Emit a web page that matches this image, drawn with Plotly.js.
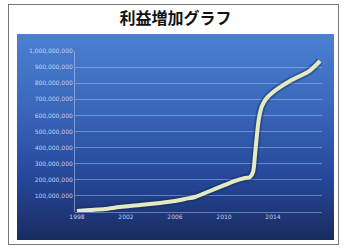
<!DOCTYPE html>
<html><head><meta charset="utf-8">
<script src="https://cdn.plot.ly/plotly-3.0.1.min.js"></script>
<style>
html,body{margin:0;padding:0;background:#fff;width:351px;height:248px;overflow:hidden;}
#frame{position:absolute;left:8px;top:4px;width:331px;height:241px;border:1px solid #777;box-sizing:border-box;}
#panel{position:absolute;left:17px;top:34px;width:317px;height:206px;background:linear-gradient(to bottom,#4c80d2 0%,#3a68bb 35%,#25479a 70%,#1a2b60 100%);}
#chart{position:absolute;left:0;top:0;width:351px;height:248px;}
</style></head>
<body>
<div id="frame"></div>
<div id="panel"></div>
<div id="chart"></div>
<script>
const years = [1998.0,1999.06,2000.29,2001.51,2003.14,2004.78,2006.0,2006.82,2007.63,2008.45,2009.27,2010.08,2010.9,2011.71,2012.12,2012.37,2012.53,2012.69,2012.86,2013.1,2013.43,2013.92,2014.57,2015.39,2016.2,2016.86,2017.35,2017.84];
const profit = [6,12,19,31,43,56,68,81,93,118,143,168,193,211,217,248,354,478,584,658,702,739,776,814,845,870,901,938].map(v=>v*1e6);
const xTickVals = [1998,2002,2006,2010,2014];
const xTickText = ['1998','2002','2006','2010','2014'];
const yTickVals = [100e6,200e6,300e6,400e6,500e6,600e6,700e6,800e6,900e6,1000e6];
const titleText = '利益増加グラフ';

const glow = {x:years,y:profit,type:'scatter',mode:'lines',line:{color:'rgba(20,40,90,0.35)',width:8,shape:'spline',smoothing:0.8},hoverinfo:'skip',showlegend:false};
const main = {x:years,y:profit,type:'scatter',mode:'lines',line:{color:'#e4ebc0',width:4,shape:'spline',smoothing:0.8},showlegend:false};

const layout = {
  width:351,height:248,
  margin:{l:75,r:29,t:51,b:36},
  paper_bgcolor:'rgba(0,0,0,0)',plot_bgcolor:'rgba(0,0,0,0)',
  title:{text:titleText,font:{family:'Noto Sans CJK JP',size:16,color:'#111',weight:'bold'},x:0.5,xanchor:'center',y:1-18/248,yanchor:'middle',yref:'container'},
  xaxis:{range:[1997.84,2018.0],tickvals:xTickVals,ticktext:xTickText,showgrid:false,zeroline:false,showline:false,ticks:'',
    tickfont:{family:'DejaVu Sans',size:6,color:'#c2d0ee'}},
  yaxis:{range:[0,1000e6],tickvals:yTickVals,tickformat:',d',showgrid:true,gridcolor:'rgba(170,195,240,0.5)',gridwidth:1,
    zeroline:true,zerolinecolor:'rgba(170,195,240,0.5)',zerolinewidth:1,showline:true,linecolor:'rgba(170,195,240,0.6)',linewidth:1,ticks:'',
    tickfont:{family:'DejaVu Sans',size:6,color:'#c2d0ee'}}
};
Plotly.newPlot('chart',[glow,main],layout,{displayModeBar:false,staticPlot:true});
</script>
</body></html>
